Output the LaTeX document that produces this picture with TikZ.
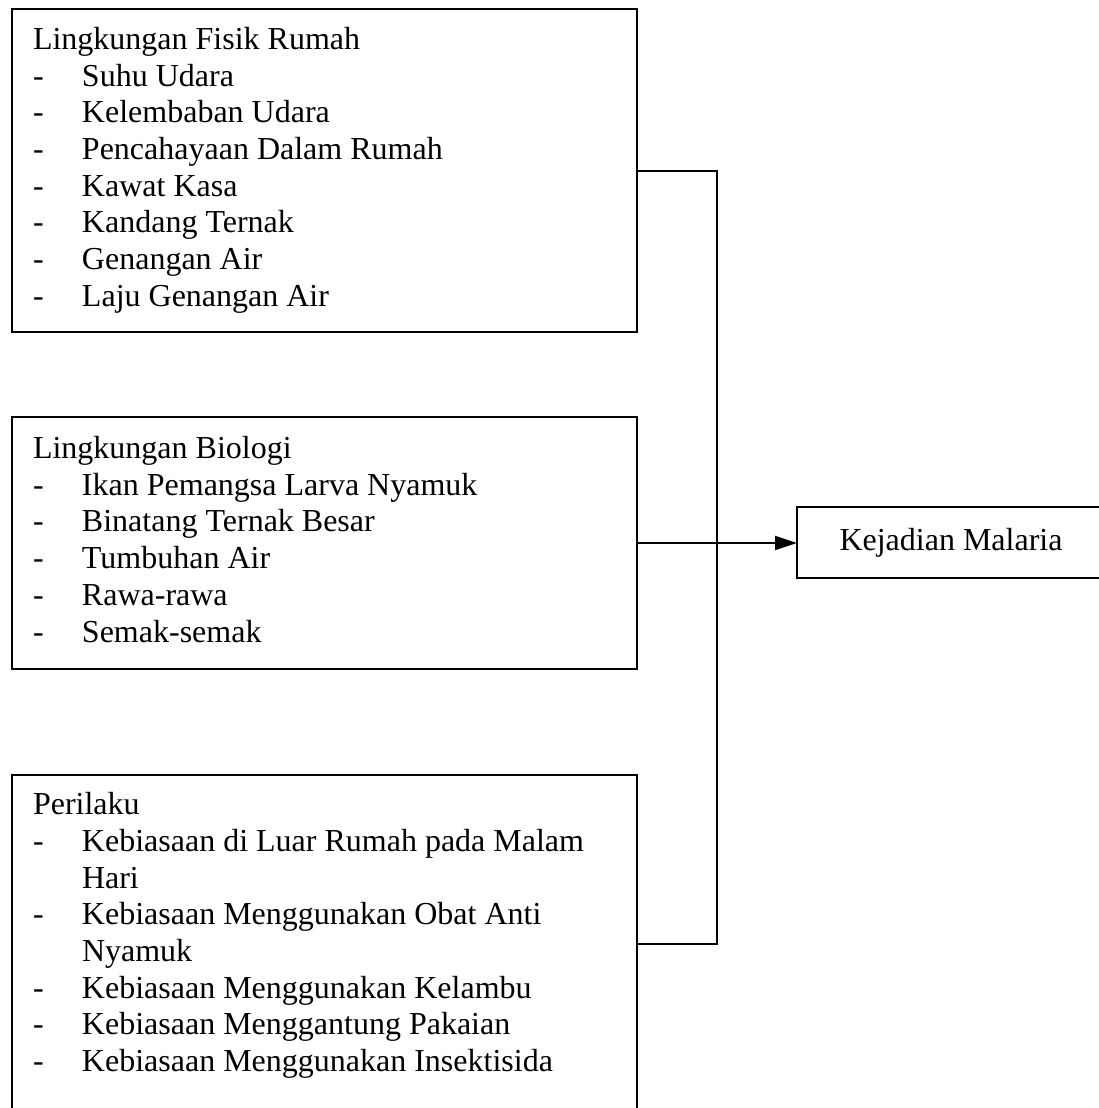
\documentclass[tikz,border=0pt]{standalone}
\usepackage{fontspec}
\setmainfont{Liberation Serif}
\usetikzlibrary{arrows.meta}
\newcommand{\butir}[1]{\makebox[49pt][l]{-}#1}
\begin{document}
\begin{tikzpicture}[x=1pt,y=-1pt,
  kotak/.style={draw,line width=2.4pt,outer sep=0pt,anchor=north west,align=left,
    text width=583pt,inner xsep=21pt,inner ysep=14pt,
    font=\fontsize{32}{36.7}\selectfont,
    execute at begin node={\spaceskip=.25em\relax}},
  garis/.style={line width=2pt}]
\useasboundingbox (0,0) rectangle (1099,1108);
\clip (0,0) rectangle (1099,1108);
\node[kotak,minimum height=323pt] (fisik) at (12,9) {\strut Lingkungan Fisik Rumah\\
  \butir{Suhu Udara}\\
  \butir{Kelembaban Udara}\\
  \butir{Pencahayaan Dalam Rumah}\\
  \butir{Kawat Kasa}\\
  \butir{Kandang Ternak}\\
  \butir{Genangan Air}\\
  \butir{Laju Genangan Air}\strut};
\node[kotak,minimum height=252pt] (biologi) at (12,417) {\strut Lingkungan Biologi\\
  \butir{Ikan Pemangsa Larva Nyamuk}\\
  \butir{Binatang Ternak Besar}\\
  \butir{Tumbuhan Air}\\
  \butir{Rawa-rawa}\\
  \butir{Semak-semak}\strut};
\node[kotak] (perilaku) at (12,775) {\strut Perilaku\\
  \butir{Kebiasaan di Luar Rumah pada Malam}\\
  \hspace*{49pt}Hari\\
  \butir{Kebiasaan Menggunakan Obat Anti}\\
  \hspace*{49pt}Nyamuk\\
  \butir{Kebiasaan Menggunakan Kelambu}\\
  \butir{Kebiasaan Menggantung Pakaian}\\
  \butir{Kebiasaan Menggunakan Insektisida}\rule[-27pt]{0pt}{27pt}};
\node[draw,line width=2.4pt,outer sep=0pt,anchor=north west,minimum width=308pt,minimum height=71pt,
  font=\fontsize{32}{36.7}\selectfont] (malaria) at (797,507) {Kejadian Malaria};
\coordinate (jalur) at (717,0);
% garis penghubung
\draw[garis] (fisik.east) -- (fisik.east -| jalur) -- (perilaku.east -| jalur) -- (perilaku.east);
\draw[garis,-{Triangle[length=22pt,width=14pt]}] (biologi.east) -- (malaria.west |- biologi.east);
\end{tikzpicture}
\end{document}
